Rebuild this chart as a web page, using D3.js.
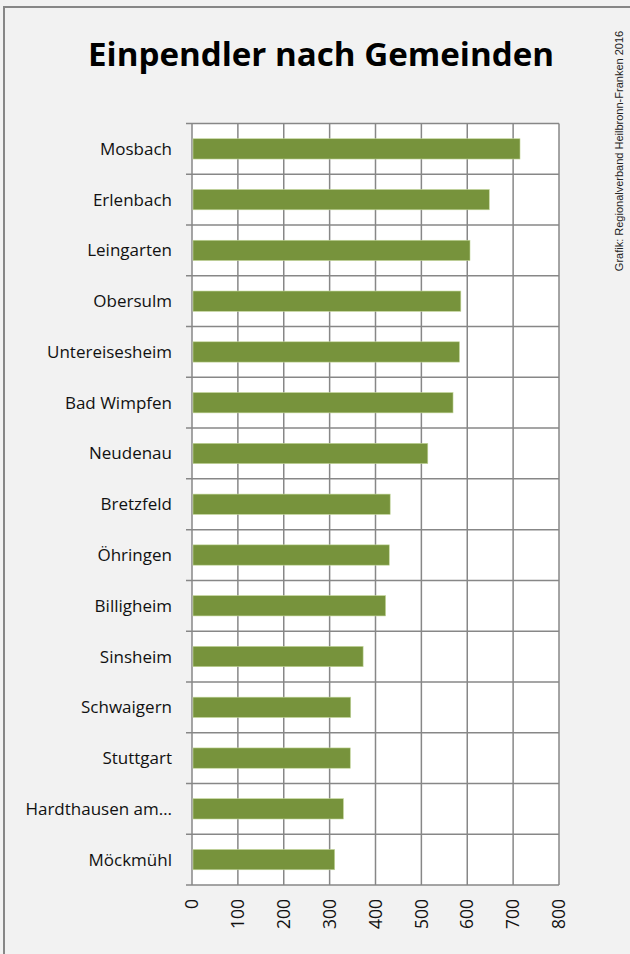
<!DOCTYPE html>
<html>
<head>
<meta charset="utf-8">
<script src="https://cdn.jsdelivr.net/npm/d3@7"></script>
<style>
  body { margin: 0; background: #f2f2f2; }
</style>
</head>
<body>
<script>
// chart data
var gemeinden = ["Mosbach", "Erlenbach", "Leingarten", "Obersulm", "Untereisesheim", "Bad Wimpfen",
  "Neudenau", "Bretzfeld", "Öhringen", "Billigheim", "Sinsheim", "Schwaigern", "Stuttgart",
  "Hardthausen am…", "Möckmühl"];
var einpendler = [715, 648, 606, 586, 583, 569, 514, 432, 430, 422, 373, 346, 345, 330, 311];
var x_ticks = [0, 100, 200, 300, 400, 500, 600, 700, 800];

var width = 630, height = 954;
var plot_left = 192, plot_right = 559, plot_top = 123.5, plot_bottom = 885;
var grid_color = "#878787";
var bar_color = "#77933c";

var svg = d3.select("body").append("svg")
  .attr("width", width)
  .attr("height", height);

// background + frame (only left and top edges visible)
svg.append("rect").attr("width", width).attr("height", height).attr("fill", "#f2f2f2");
svg.append("line").attr("x1", 4).attr("x2", 4).attr("y1", 6).attr("y2", height)
  .attr("stroke", "#878787").attr("stroke-width", 2);
svg.append("line").attr("x1", 3).attr("x2", width).attr("y1", 7).attr("y2", 7)
  .attr("stroke", "#878787").attr("stroke-width", 2);

// title
svg.append("text")
  .text("Einpendler nach Gemeinden")
  .attr("x", 321)
  .attr("y", 66)
  .attr("text-anchor", "middle")
  .attr("textLength", 466)
  .attr("lengthAdjust", "spacingAndGlyphs")
  .style("font-family", "'Open Sans', sans-serif")
  .style("font-weight", "bold")
  .style("font-size", "33px")
  .style("fill", "#000");

// credit, rotated along right edge
svg.append("text")
  .text("Grafik: Regionalverband Heilbronn-Franken 2016")
  .attr("transform", "translate(623,151) rotate(-90)")
  .attr("text-anchor", "middle")
  .style("font-family", "'Liberation Sans', Arial, sans-serif")
  .style("font-size", "11px")
  .style("fill", "#222");

var x = d3.scaleLinear().domain([0, 800]).range([plot_left, plot_right]);
var y = d3.scaleBand().domain(gemeinden).range([plot_top, plot_bottom]).paddingInner(0.6).paddingOuter(0.3);

// plot area
svg.append("rect")
  .attr("x", plot_left).attr("y", plot_top)
  .attr("width", plot_right - plot_left).attr("height", plot_bottom - plot_top)
  .attr("fill", "#fff");

var grid = svg.append("g");
// vertical gridlines
grid.selectAll(".vgrid").data(x_ticks).enter().append("line")
  .attr("x1", d => x(d)).attr("x2", d => x(d))
  .attr("y1", plot_top).attr("y2", plot_bottom)
  .attr("stroke", grid_color).attr("stroke-width", 1.5);

// horizontal gridlines at category boundaries, with little ticks to the left
var step = (plot_bottom - plot_top) / gemeinden.length;
var bounds = d3.range(gemeinden.length + 1).map(i => plot_top + i * step);
grid.selectAll(".hgrid").data(bounds).enter().append("line")
  .attr("x1", plot_left - 6).attr("x2", plot_right)
  .attr("y1", d => d).attr("y2", d => d)
  .attr("stroke", grid_color).attr("stroke-width", 1.5);

// bars
svg.append("g").selectAll("rect").data(gemeinden).enter().append("rect")
  .attr("x", x(0) + 1)
  .attr("y", d => y(d))
  .attr("width", (d, i) => x(einpendler[i]) - x(0) - 1)
  .attr("height", y.bandwidth())
  .attr("fill", bar_color)
  .attr("stroke", "#c3d69b")
  .attr("stroke-width", 0.6);

// category labels
svg.append("g").selectAll("text").data(gemeinden).enter().append("text")
  .text(d => d)
  .attr("x", 172)
  .attr("y", d => y(d) + y.bandwidth() / 2)
  .attr("dy", "0.35em")
  .attr("text-anchor", "end")
  .style("font-family", "'Open Sans', sans-serif")
  .style("font-size", "17px")
  .style("fill", "#111");

// x tick labels, rotated
svg.append("g").selectAll("text").data(x_ticks).enter().append("text")
  .text(d => d)
  .attr("transform", d => "translate(" + x(d) + ",899) rotate(-90)")
  .attr("dy", "0.35em")
  .attr("text-anchor", "end")
  .style("font-family", "'Open Sans', sans-serif")
  .style("font-size", "17.5px")
  .style("fill", "#111");
</script>
</body>
</html>
